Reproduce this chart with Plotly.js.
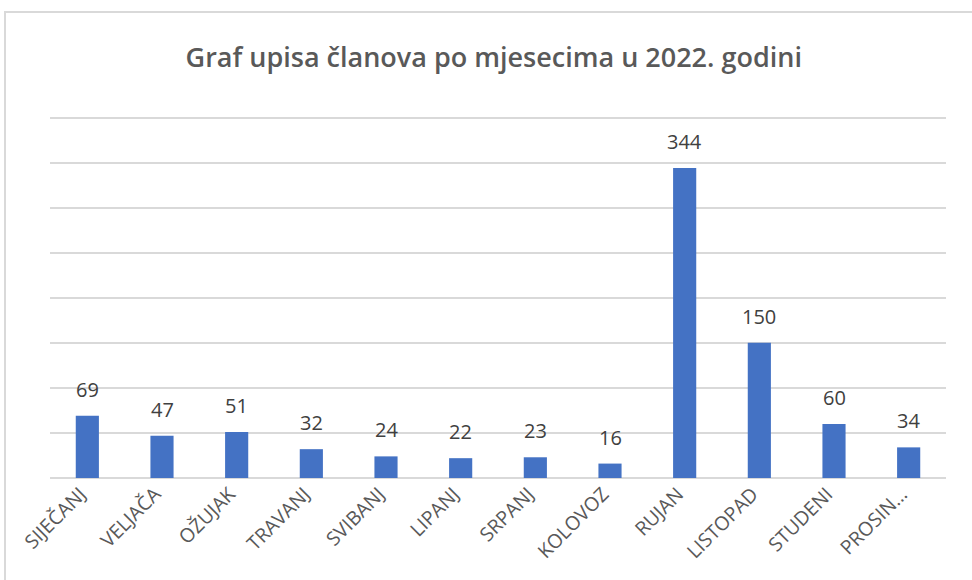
<!DOCTYPE html>
<html>
<head>
<meta charset="utf-8">
<script src="https://cdn.plot.ly/plotly-3.0.1.min.js"></script>
<style>html,body{margin:0;padding:0;background:#fff;}#chart{width:972px;height:580px;}</style>
</head>
<body>
<div id="chart"></div>
<script>
const months = ["SIJEČANJ","VELJAČA","OŽUJAK","TRAVANJ","SVIBANJ","LIPANJ","SRPANJ","KOLOVOZ","RUJAN","LISTOPAD","STUDENI","PROSIN…"];
const values = [69,47,51,32,24,22,23,16,344,150,60,34];
const gridValues = [0,50,100,150,200,250,300,350,400];
const titleText = "Graf upisa članova po mjesecima u 2022. godini";

const font = "Open Sans, Liberation Sans, sans-serif";

const trace = {
  type: "bar",
  x: months,
  y: values,
  marker: {color: "#4472C4", line: {width: 0}},
  hoverinfo: "x+y"
};

const annotations = months.map((m, i) => ({
  x: m, y: values[i], xref: "x", yref: "y",
  text: String(values[i]),
  showarrow: false,
  yanchor: "bottom",
  yshift: 11,
  font: {family: font, size: 20, color: "#404040"}
}));

const layout = {
  width: 972, height: 580,
  margin: {l: 50, r: 26, t: 114, b: 102},
  paper_bgcolor: "#ffffff",
  plot_bgcolor: "#ffffff",
  title: {
    text: titleText,
    x: 0.508, xanchor: "center",
    y: 0.9, yref: "container", yanchor: "middle",
    font: {family: font, size: 27, color: "#595959", weight: 600}
  },
  bargap: 0.69,
  showlegend: false,
  xaxis: {
    type: "category",
    tickangle: -45,
    tickfont: {family: font, size: 19.5, color: "#595959"},
    ticklabelshift: -7,
    ticklabelstandoff: 0,
    showgrid: false,
    showline: false,
    ticks: "",
    zeroline: false
  },
  yaxis: {
    range: [0, 404],
    tickvals: gridValues,
    showticklabels: false,
    gridcolor: "#d9d9d9",
    gridwidth: 2,
    zeroline: true,
    zerolinecolor: "#d9d9d9",
    zerolinewidth: 2,
    showline: false,
    ticks: ""
  },
  annotations: annotations,
  shapes: [{
    type: "rect", xref: "paper", yref: "paper",
    x0: -0.0502, x1: 1.1, y0: -0.4, y1: 1.28,
    line: {color: "#d9d9d9", width: 2},
    fillcolor: "rgba(0,0,0,0)",
    layer: "below"
  }]
};

Plotly.newPlot("chart", [trace], layout, {displayModeBar: false, staticPlot: true});
</script>
</body>
</html>
